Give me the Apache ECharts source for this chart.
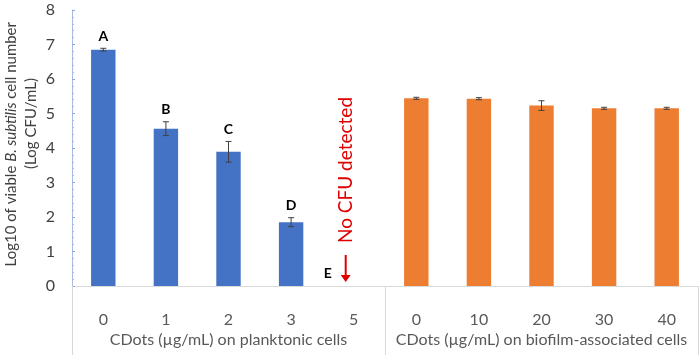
<!DOCTYPE html>
<html>
<head>
<meta charset="utf-8">
<script src="https://cdn.jsdelivr.net/npm/echarts@6/dist/echarts.min.js"></script>
<style>
html,body{margin:0;padding:0;background:#fff;}
#main{width:699px;height:355px;}
</style>
</head>
<body>
<div id="main"></div>
<script>
// categories on the x axis (two groups of five)
var categories = ['0','1','2','3','5','0','10','20','30','40'];
var groups = ['CDots (\u00b5g/mL) on planktonic cells','CDots (\u00b5g/mL) on biofilm-associated cells'];

// log10 cfu, planktonic
var planktonic = [6.85, 4.56, 3.89, 1.85, 0];
var planktonicErr = [0.04, 0.2, 0.3, 0.13, 0];
var letters = ['A','B','C','D','E'];

// log10 cfu, biofilm-associated
var biofilm = [5.44, 5.43, 5.23, 5.15, 5.15];
var biofilmErr = [0.03, 0.03, 0.14, 0.03, 0.03];

var noCfuText = 'No CFU detected';

var FONT = 'Lato';
var chart = echarts.init(document.getElementById('main'));

var blueData = [], orangeData = [], errData = [], letterData = [];
for (var i = 0; i < categories.length; i++) {
	if (i < 5) {
		blueData.push(planktonic[i]);
		orangeData.push(null);
		errData.push([i, planktonic[i], planktonicErr[i]]);
		letterData.push([i, planktonic[i] + planktonicErr[i], letters[i]]);
	} else {
		blueData.push(null);
		orangeData.push(biofilm[i-5]);
		errData.push([i, biofilm[i-5], biofilmErr[i-5]]);
	}
}

function renderErr(params, api) {
	var x = api.value(0), v = api.value(1), e = api.value(2);
	if (!e) return;
	var top = api.coord([x, v + e]);
	var bot = api.coord([x, v - e]);
	var style = {stroke: '#404040', lineWidth: 1};
	return {
		type: 'group',
		children: [
			{type: 'line', shape: {x1: top[0], y1: top[1], x2: bot[0], y2: bot[1]}, style: style},
			{type: 'line', shape: {x1: top[0]-3, y1: top[1], x2: top[0]+3, y2: top[1]}, style: style},
			{type: 'line', shape: {x1: bot[0]-3, y1: bot[1], x2: bot[0]+3, y2: bot[1]}, style: style}
		]
	};
}

function renderLetter(params, api) {
	var x = api.value(0), v = api.value(1);
	var p = api.coord([x, v]);
	var txt = letterData[params.dataIndex][2];
	if (v > 0) {
		return {type: 'text', x: p[0], y: p[1] - 5, style: {
			text: txt, fill: '#000', font: 'bold 14px ' + FONT, align: 'center', verticalAlign: 'bottom'}};
	}
	// no colonies: letter shifted left, red arrow and vertical note
	var ax = p[0] - 8;
	return {
		type: 'group',
		children: [
			{type: 'text', x: p[0] - 26, y: p[1] - 13, style: {
				text: txt, fill: '#000', font: 'bold 14px ' + FONT, align: 'center', verticalAlign: 'middle'}},
			{type: 'line', shape: {x1: ax, y1: p[1] - 31, x2: ax, y2: p[1] - 8}, style: {stroke: '#e00000', lineWidth: 2}},
			{type: 'polygon', shape: {points: [[ax-5, p[1]-11], [ax+5, p[1]-11], [ax, p[1]-4]]}, style: {fill: '#e00000'}},
			{type: 'text', x: ax, y: p[1] - 116, rotation: Math.PI/2, style: {
				text: noCfuText, fill: '#e00000', font: '19px ' + FONT, align: 'center', verticalAlign: 'middle'}}
		]
	};
}

var option = {
	animation: false,
	textStyle: {fontFamily: FONT},
	grid: {left: 72, right: 1, top: 10, bottom: 69, containLabel: false, outerBoundsMode: 'none'},
	// y axis title, two lines
	graphic: [{
		type: 'text', left: 4, top: 22, rotation: Math.PI/2,
		style: {
			text: '{a|Log10 of viable }{b|B. subtilis}{a| cell number}',
			rich: {
				a: {fontSize: 15, fill: '#404040', fontFamily: FONT},
				b: {fontSize: 15, fill: '#404040', fontFamily: FONT, fontStyle: 'italic'}
			}
		}
	}, {
		type: 'text', left: 24, top: 78, rotation: Math.PI/2,
		style: {text: '(Log CFU/mL)', fontSize: 15, fill: '#404040', fontFamily: FONT}
	}],
	xAxis: [{
		type: 'category',
		data: categories,
		axisLine: {lineStyle: {color: '#d9d9d9'}},
		axisTick: {show: false},
		axisLabel: {color: '#595959', fontSize: 16, margin: 26, interval: 0}
	}, {
		type: 'category',
		position: 'bottom',
		data: groups,
		axisLine: {show: false},
		axisTick: {show: true, interval: 0, length: 69, lineStyle: {color: '#d9d9d9'}},
		axisLabel: {color: '#595959', fontSize: 16, margin: 46, interval: 0, hideOverlap: false}
	}],
	yAxis: {
		type: 'value',
		min: 0, max: 8, interval: 1,
		axisLine: {show: true, lineStyle: {color: '#a9bde0'}},
		axisTick: {show: true, inside: true, length: 3, lineStyle: {color: '#8ea6d4'}},
		minorTick: {show: true, splitNumber: 5, length: 2, lineStyle: {color: '#a9bde0'}},
		splitLine: {show: false},
		axisLabel: {color: '#404040', fontSize: 16, margin: 17}
	},
	series: [{
		type: 'bar', name: 'planktonic', data: blueData,
		barWidth: '39%', barGap: '-100%',
		itemStyle: {color: '#4472c4'}
	}, {
		type: 'bar', name: 'biofilm', data: orangeData,
		barWidth: '39%',
		itemStyle: {color: '#ed7d31'}
	}, {
		type: 'custom', data: errData, renderItem: renderErr, z: 5
	}, {
		type: 'custom', data: letterData, renderItem: renderLetter, z: 6
	}]
};
chart.setOption(option);
</script>
</body>
</html>
